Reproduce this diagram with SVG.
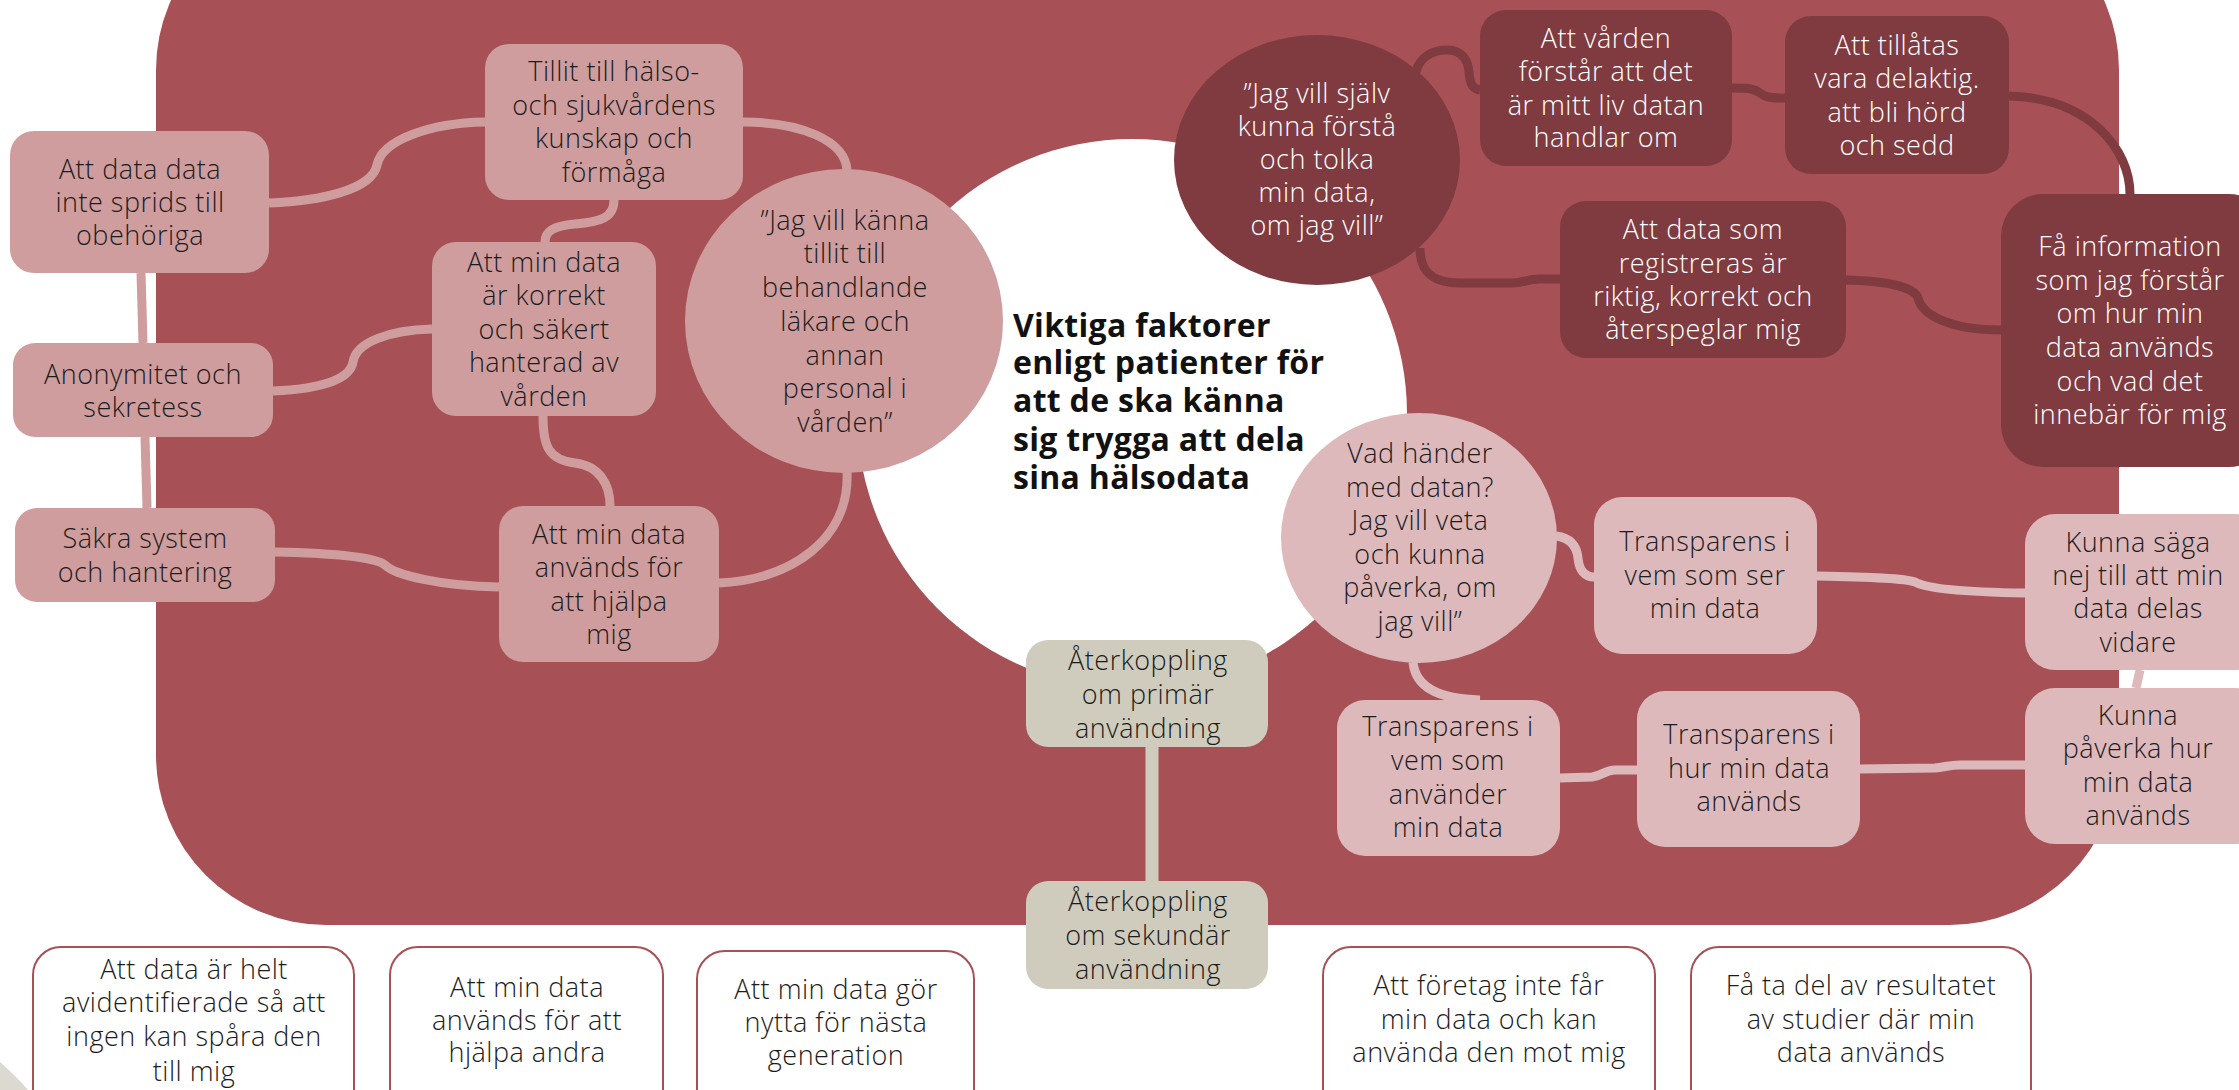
<svg xmlns="http://www.w3.org/2000/svg" width="2239" height="1090" viewBox="0 0 2239 1090">
<style>
.bg{fill:#A75156}
.lp{fill:#CF9D9E}
.rp{fill:#DDB9BC}
.dk{fill:#803B40}
.be{fill:#CFCCBD}
.out{fill:#fff;stroke:#A75156;stroke-width:2}
text{font-family:"Open Sans","Liberation Sans",sans-serif;font-size:27px;font-weight:300;letter-spacing:0.5px;fill:#1c1c1c;text-anchor:middle}
text.w{fill:#fff}
text.h{font-weight:700;font-size:32px;letter-spacing:0.3px;text-anchor:start;fill:#111}
.c{fill:none;stroke-width:9;stroke-linecap:butt}
.cl{stroke:#CF9D9E}
.cd{stroke:#803B40}
.cr{stroke:#DDB9BC}
.cb{stroke:#CFCCBD;stroke-width:13}
</style>
<rect width="2239" height="1090" fill="#fff"/>
<path d="M0,1062 C10,1071 20,1080 28,1090 L0,1090 Z" fill="#DCDAD0"/>
<rect class="bg" x="156" y="-100" width="1963" height="1025" rx="170"/>
<circle cx="1132" cy="414" r="275" fill="#fff"/>
<g id="connectors">
<path class="c cl" d="M269,203 C320,201 372,190 377,165 C382,140 430,123 485,122"/>
<path class="c cl" d="M743,122 C800,122 845,140 847,170"/>
<path class="c cl" d="M614,200 C614,218 600,222 575,224 C552,226 545,232 545,242"/>
<path class="c cl" d="M273,391 C320,389 350,380 353,362 C356,342 390,330 432,329"/>
<path class="c cl" d="M543,416 C543,445 548,460 575,463 C600,466 610,485 610,506"/>
<path class="c cl" d="M275,552 C330,553 375,557 385,565 C395,575 440,586 499,587"/>
<path class="c cl" d="M847,472 C850,540 790,580 719,583"/>
<path class="c cl" d="M141,273 L143,343 M145,437 L147,508"/>
<path class="c cd" d="M1415,74 C1420,55 1435,50 1447,50 C1462,50 1468,60 1469,72 C1470,85 1473,89 1480,90"/>
<path class="c cd" d="M1420,248 C1420,270 1430,283 1460,283 L1512,283 C1525,283 1525,279 1540,279 L1560,279"/>
<path class="c cd" d="M1732,88 C1750,88 1755,89 1760,93 C1765,97 1770,98 1785,98"/>
<path class="c cd" d="M2009,96 C2090,98 2130,150 2130,194"/>
<path class="c cd" d="M1846,280 C1890,281 1915,288 1918,298 C1922,315 1950,330 2001,330"/>
<path class="c cr" d="M1556,536 C1572,538 1577,548 1578,558 C1579,570 1585,577 1594,577"/>
<path class="c cr" d="M1413,662 C1415,685 1435,699 1480,700"/>
<path class="c cr" d="M1560,778 L1592,777 C1602,776 1605,770 1615,770 L1637,770"/>
<path class="c cr" d="M1817,576 C1870,577 1905,578 1915,582 C1925,588 1960,592 2025,593"/>
<path class="c cr" d="M1860,769 L1935,768 C1945,767 1950,765 1960,765 L2025,765"/>
<path class="c cr" d="M2140,670 L2136,688"/>
<path class="c cb" d="M1152,747 L1152,881"/>
</g>
<g id="n-tillit"><rect class="lp" x="485" y="44" width="258" height="156" rx="24"/><text><tspan x="614" y="81">Tillit till hälso-</tspan><tspan x="614" y="115">och sjukvårdens</tspan><tspan x="614" y="148">kunskap och</tspan><tspan x="614" y="182">förmåga</tspan></text></g>
<g id="n-sprids"><rect class="lp" x="10" y="131" width="259" height="142" rx="24"/><text><tspan x="140" y="179">Att data data</tspan><tspan x="140" y="212">inte sprids till</tspan><tspan x="140" y="245">obehöriga</tspan></text></g>
<g id="n-anonym"><rect class="lp" x="13" y="343" width="260" height="94" rx="22"/><text><tspan x="143" y="384">Anonymitet och</tspan><tspan x="143" y="417">sekretess</tspan></text></g>
<g id="n-sakra"><rect class="lp" x="15" y="508" width="260" height="94" rx="22"/><text><tspan x="145" y="548">Säkra system</tspan><tspan x="145" y="582">och hantering</tspan></text></g>
<g id="n-korrekt"><rect class="lp" x="432" y="242" width="224" height="174" rx="24"/><text><tspan x="544" y="272">Att min data</tspan><tspan x="544" y="305">är korrekt</tspan><tspan x="544" y="339">och säkert</tspan><tspan x="544" y="372">hanterad av</tspan><tspan x="544" y="406">vården</tspan></text></g>
<g id="n-hjalpa"><rect class="lp" x="499" y="506" width="220" height="156" rx="24"/><text><tspan x="609" y="544">Att min data</tspan><tspan x="609" y="577">används för</tspan><tspan x="609" y="611">att hjälpa</tspan><tspan x="609" y="644">mig</tspan></text></g>
<g id="n-kanna"><ellipse class="lp" cx="844" cy="321" rx="159" ry="152"/><text><tspan x="845" y="230">”Jag vill känna</tspan><tspan x="845" y="263">tillit till</tspan><tspan x="845" y="297">behandlande</tspan><tspan x="845" y="331">läkare och</tspan><tspan x="845" y="365">annan</tspan><tspan x="845" y="398">personal i</tspan><tspan x="845" y="432">vården”</tspan></text></g>
<g id="n-center"><text class="h"><tspan x="1013" y="337">Viktiga faktorer</tspan><tspan x="1013" y="374">enligt patienter för</tspan><tspan x="1013" y="412">att de ska känna</tspan><tspan x="1013" y="451">sig trygga att dela</tspan><tspan x="1013" y="489">sina hälsodata</tspan></text></g>
<g id="n-sjalv"><ellipse class="dk" cx="1317" cy="160" rx="143" ry="125"/><text class="w"><tspan x="1317" y="103">”Jag vill själv</tspan><tspan x="1317" y="136">kunna förstå</tspan><tspan x="1317" y="169">och tolka</tspan><tspan x="1317" y="202">min data,</tspan><tspan x="1317" y="235">om jag vill”</tspan></text></g>
<g id="n-varden"><rect class="dk" x="1480" y="10" width="252" height="156" rx="26"/><text class="w"><tspan x="1606" y="48">Att vården</tspan><tspan x="1606" y="81">förstår att det</tspan><tspan x="1606" y="115">är mitt liv datan</tspan><tspan x="1606" y="147">handlar om</tspan></text></g>
<g id="n-tillatas"><rect class="dk" x="1785" y="16" width="224" height="158" rx="26"/><text class="w"><tspan x="1897" y="55">Att tillåtas</tspan><tspan x="1897" y="88">vara delaktig.</tspan><tspan x="1897" y="122">att bli hörd</tspan><tspan x="1897" y="155">och sedd</tspan></text></g>
<g id="n-registreras"><rect class="dk" x="1560" y="201" width="286" height="157" rx="26"/><text class="w"><tspan x="1703" y="239">Att data som</tspan><tspan x="1703" y="273">registreras är</tspan><tspan x="1703" y="306">riktig, korrekt och</tspan><tspan x="1703" y="339">återspeglar mig</tspan></text></g>
<g id="n-info"><rect class="dk" x="2001" y="194" width="270" height="273" rx="42"/><text class="w"><tspan x="2130" y="256">Få information</tspan><tspan x="2130" y="290">som jag förstår</tspan><tspan x="2130" y="323">om hur min</tspan><tspan x="2130" y="357">data används</tspan><tspan x="2130" y="391">och vad det</tspan><tspan x="2130" y="424">innebär för mig</tspan></text></g>
<g id="n-vad"><ellipse class="rp" cx="1419" cy="538" rx="138" ry="125"/><text><tspan x="1420" y="463">Vad händer</tspan><tspan x="1420" y="497">med datan?</tspan><tspan x="1420" y="530">Jag vill veta</tspan><tspan x="1420" y="564">och kunna</tspan><tspan x="1420" y="597">påverka, om</tspan><tspan x="1420" y="631">jag vill”</tspan></text></g>
<g id="n-ser"><rect class="rp" x="1594" y="497" width="223" height="157" rx="28"/><text><tspan x="1705" y="551">Transparens i</tspan><tspan x="1705" y="585">vem som ser</tspan><tspan x="1705" y="618">min data</tspan></text></g>
<g id="n-anvander"><rect class="rp" x="1337" y="700" width="223" height="156" rx="28"/><text><tspan x="1448" y="736">Transparens i</tspan><tspan x="1448" y="770">vem som</tspan><tspan x="1448" y="804">använder</tspan><tspan x="1448" y="837">min data</tspan></text></g>
<g id="n-hur"><rect class="rp" x="1637" y="691" width="223" height="156" rx="28"/><text><tspan x="1749" y="744">Transparens i</tspan><tspan x="1749" y="778">hur min data</tspan><tspan x="1749" y="811">används</tspan></text></g>
<g id="n-saga"><rect class="rp" x="2025" y="514" width="240" height="156" rx="30"/><text><tspan x="2138" y="552">Kunna säga</tspan><tspan x="2138" y="585">nej till att min</tspan><tspan x="2138" y="618">data delas</tspan><tspan x="2138" y="652">vidare</tspan></text></g>
<g id="n-paverka"><rect class="rp" x="2025" y="688" width="240" height="156" rx="30"/><text><tspan x="2138" y="725">Kunna</tspan><tspan x="2138" y="758">påverka hur</tspan><tspan x="2138" y="792">min data</tspan><tspan x="2138" y="825">används</tspan></text></g>
<g id="n-primar"><rect class="be" x="1026" y="640" width="242" height="107" rx="22"/><text><tspan x="1148" y="670">Återkoppling</tspan><tspan x="1148" y="704">om primär</tspan><tspan x="1148" y="738">användning</tspan></text></g>
<g id="n-sekundar"><rect class="be" x="1026" y="881" width="242" height="108" rx="22"/><text><tspan x="1148" y="911">Återkoppling</tspan><tspan x="1148" y="945">om sekundär</tspan><tspan x="1148" y="979">användning</tspan></text></g>
<g id="b-avid"><rect class="out" x="33" y="947" width="321" height="170" rx="28"/><text><tspan x="194" y="979">Att data är helt</tspan><tspan x="194" y="1012">avidentifierade så att</tspan><tspan x="194" y="1046">ingen kan spåra den</tspan><tspan x="194" y="1081">till mig</tspan></text></g>
<g id="b-andra"><rect class="out" x="390" y="947" width="273" height="170" rx="28"/><text><tspan x="527" y="997">Att min data</tspan><tspan x="527" y="1030">används för att</tspan><tspan x="527" y="1062">hjälpa andra</tspan></text></g>
<g id="b-generation"><rect class="out" x="697" y="951" width="277" height="170" rx="28"/><text><tspan x="836" y="999">Att min data gör</tspan><tspan x="836" y="1032">nytta för nästa</tspan><tspan x="836" y="1065">generation</tspan></text></g>
<g id="b-foretag"><rect class="out" x="1323" y="947" width="332" height="170" rx="28"/><text><tspan x="1489" y="995">Att företag inte får</tspan><tspan x="1489" y="1029">min data och kan</tspan><tspan x="1489" y="1062">använda den mot mig</tspan></text></g>
<g id="b-resultat"><rect class="out" x="1691" y="947" width="340" height="170" rx="28"/><text><tspan x="1861" y="995">Få ta del av resultatet</tspan><tspan x="1861" y="1029">av studier där min</tspan><tspan x="1861" y="1062">data används</tspan></text></g>
</svg>
